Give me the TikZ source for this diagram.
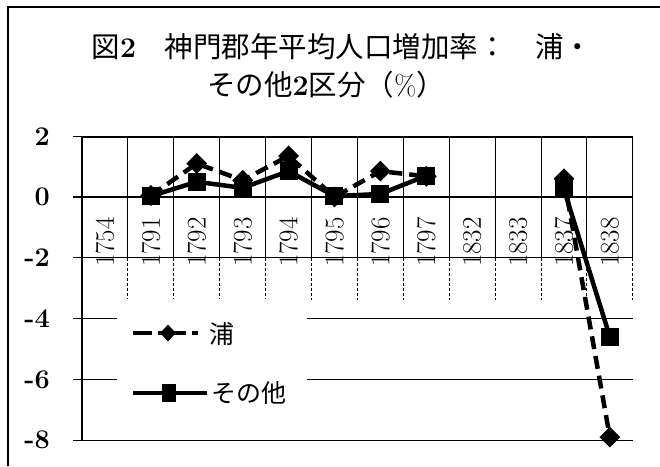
\documentclass[tikz,border=0pt]{standalone}
\usepackage{fontspec}
\newfontfamily\jpfont{Noto Sans CJK JP}
\usetikzlibrary{shapes.geometric,positioning}

\begin{document}
\begin{tikzpicture}[x=1pt,y=-1pt,
  every node/.style = {inner sep=0pt},
  hgrid/.style  = {line width=1.3pt},
  vgrid/.style  = {line width=1pt},
  uraline/.style = {line width=4.5pt, dash pattern=on 13pt off 7pt},
  othline/.style = {line width=4.5pt},
  uramark/.style = {shape=diamond, fill=black,
    minimum width=21pt, minimum height=21pt},
  othmark/.style = {shape=rectangle, fill=black,
    minimum width=18pt, minimum height=18pt},
  ylabel/.style = {font=\bfseries\fontsize{27}{27}\selectfont, anchor=east},
  yrlabel/.style = {font=\fontsize{27}{27}\selectfont, rotate=90},
  titletext/.style = {font=\fontsize{28.5}{30}\selectfont},
  legtext/.style = {font=\jpfont\fontsize{25}{25}\selectfont, anchor=west}]

\useasboundingbox (0,0) rectangle (660,466);
\draw[line width=2pt] (8,466) -- (8,7) -- (660,7);

\node[titletext] (title1) at (342,47)
  {{\jpfont 図}{\bfseries 2}{\jpfont 　神門郡年平均人口増加率：　浦・}};
\node[titletext] (title2) at (326,85)
  {{\jpfont その他}{\bfseries 2}{\jpfont 区分（}\%{\jpfont ）}};

% grid
\foreach \v [count=\k] in {2,0,-2,-4,-6,-8}{
  \draw[hgrid] (73,{197-30.4*(\v)}) -- (633,{197-30.4*(\v)});
  \node[ylabel] (ytick\k) at (50,{197-30.4*(\v)}) {\v};
}
\foreach \k in {1,...,12}{
  \draw[vgrid] ({82+45.9*\k},137) -- ({82+45.9*\k},258);
  \draw[vgrid, densely dashed] ({82+45.9*\k},258) -- ({82+45.9*\k},300);
}
\draw[hgrid] (82,137) -- (82,440);
\draw[line width=2.2pt] (82,137) -- (633,137);

\foreach \yr [count=\i] in {1754,1791,1792,1793,1794,1795,1796,1797,1832,1833,1837,1838}
  \node[yrlabel] (yr\yr) at ({82+45.9*\i-22.95},242) {\yr};

\node[fill=white, minimum width=190pt, minimum height=122pt] (legendbox) at (212,360) {};

% data
\foreach \i/\v in {2/0.05,3/1.1,4/0.55,5/1.35,6/0.0,7/0.85,8/0.68,11/0.6,12/-7.9}
  \coordinate (u\i) at ({82+45.9*\i-22.95},{197-30.4*(\v)});
\foreach \i/\v in {2/0.03,3/0.5,4/0.3,5/0.85,6/0.03,7/0.1,8/0.7,11/0.25,12/-4.6}
  \coordinate (o\i) at ({82+45.9*\i-22.95},{197-30.4*(\v)});

\draw[uraline] (u2) -- (u3) -- (u4) -- (u5) -- (u6) -- (u7) -- (u8);
\draw[uraline] (u11) -- (u12);
\foreach \i in {2,...,8,11,12}
  \node[uramark] (mu\i) at (u\i) {};

\draw[othline] (o2) -- (o3) -- (o4) -- (o5) -- (o6) -- (o7) -- (o8);
\draw[othline] (o11) -- (o12);
\foreach \i in {2,...,8,11,12}
  \node[othmark] (mo\i) at (o\i) {};

% legend
\coordinate (ua) at (133,333);
\coordinate (ub) at (198,333);
\draw[uraline, dash pattern=on 19pt off 6pt on 28pt off 6pt] (ua) -- (ub);
\node[uramark, minimum width=16pt, minimum height=17pt] (legura) at (168,333) {};
\node[legtext] (legutext) at (209,334) {浦};

\coordinate (oa) at (133,393);
\coordinate (ob) at (207,393);
\draw[othline] (oa) -- (ob);
\node[othmark, minimum width=14pt, minimum height=18pt] (legoth) at (169,393) {};
\node[legtext] (legotext) at (211,393) {その他};
\end{tikzpicture}
\end{document}
